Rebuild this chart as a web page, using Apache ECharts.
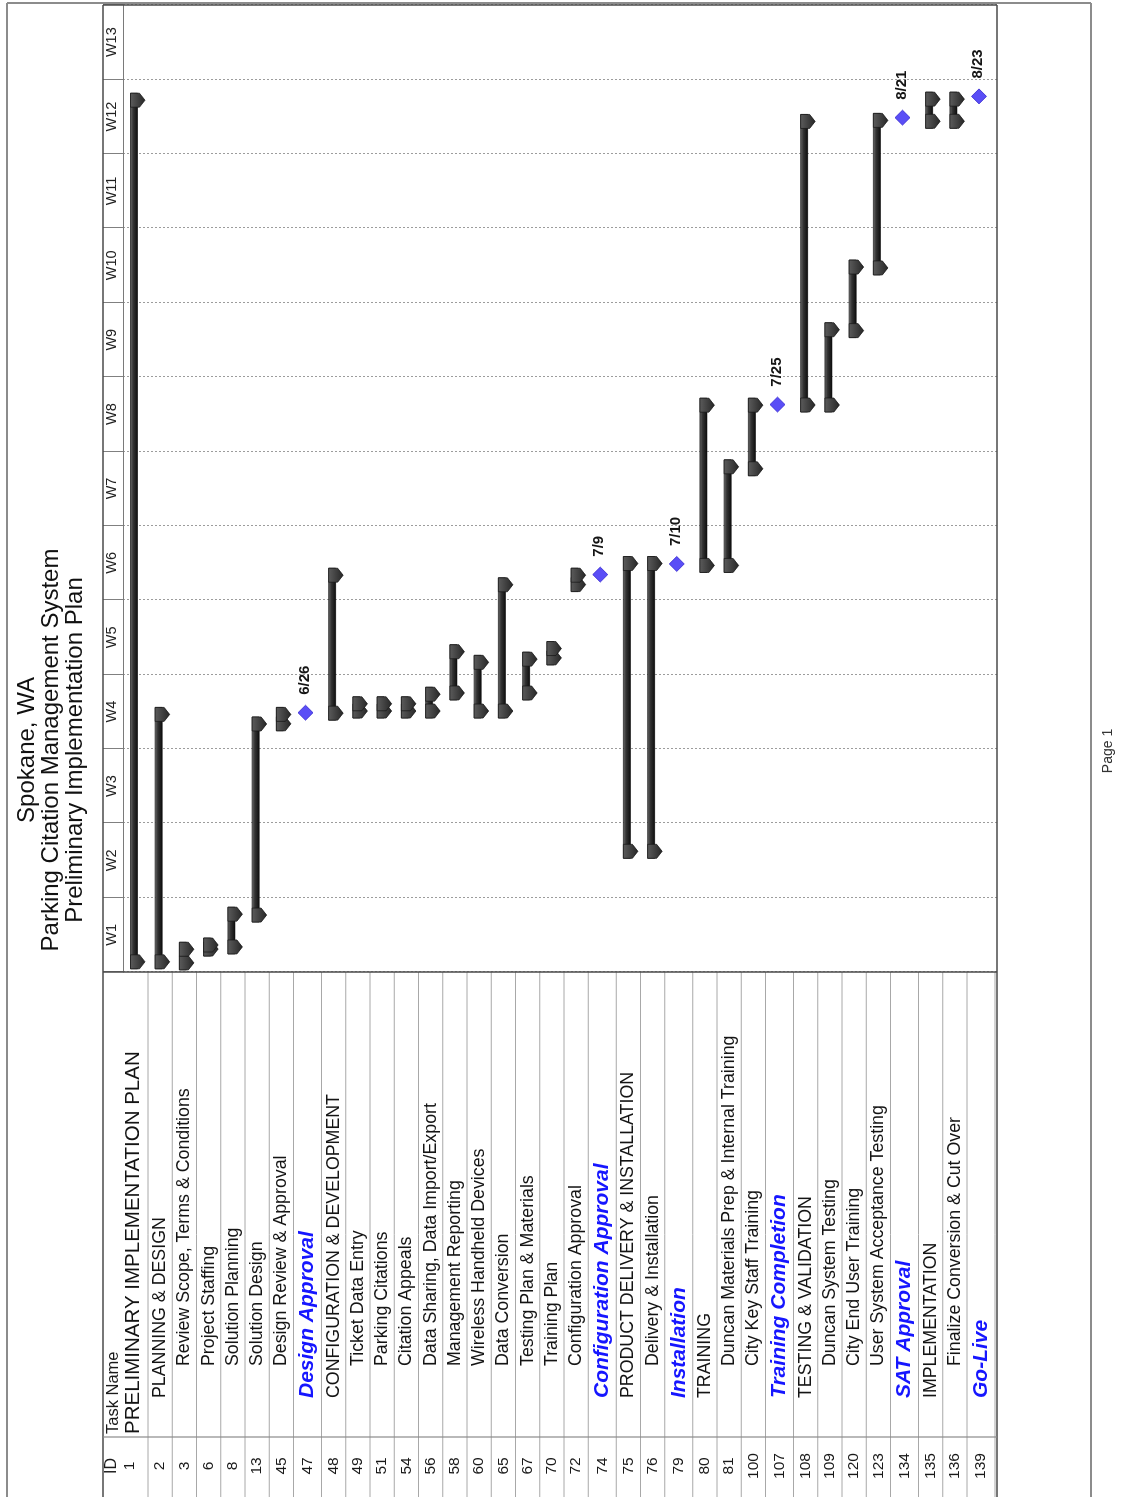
<!DOCTYPE html>
<html>
<head>
<meta charset="utf-8">
<title>Spokane, WA - Parking Citation Management System</title>
<script src="https://cdn.jsdelivr.net/npm/echarts/dist/echarts.min.js"></script>
<style>
  html, body { margin: 0; padding: 0; background: #fff; width: 1121px; height: 1497px; overflow: hidden; }
  /* landscape sheet, printed sideways on the portrait page */
  #sheet {
    position: absolute; left: 0; top: 0;
    width: 1497px; height: 1121px;
    transform-origin: 0 0;
    transform: translateY(1497px) rotate(-90deg);
    background: #fff;
  }
</style>
</head>
<body>
<div id="sheet"></div>
<script>
// ---- task table ----
const taskIds = [1, 2, 3, 6, 8, 13, 45, 47, 48, 49, 51, 54, 56, 58, 60, 65, 67, 70, 72, 74,
                 75, 76, 79, 80, 81, 100, 107, 108, 109, 120, 123, 134, 135, 136, 139];
const taskNames = [
  'PRELIMINARY IMPLEMENTATION PLAN', 'PLANNING & DESIGN', 'Review Scope, Terms & Conditions',
  'Project Staffing', 'Solution Planning', 'Solution Design', 'Design Review & Approval',
  'Design Approval', 'CONFIGURATION & DEVELOPMENT', 'Ticket Data Entry', 'Parking Citations',
  'Citation Appeals', 'Data Sharing, Data Import/Export', 'Management Reporting',
  'Wireless Handheld Devices', 'Data Conversion', 'Testing Plan & Materials', 'Training Plan',
  'Configuration Approval', 'Configuration Approval', 'PRODUCT DELIVERY & INSTALLATION',
  'Delivery & Installation', 'Installation', 'TRAINING', 'Duncan Materials Prep & Internal Training',
  'City Key Staff Training', 'Training Completion', 'TESTING & VALIDATION', 'Duncan System Testing',
  'City End User Training', 'User System Acceptance Testing', 'SAT Approval', 'IMPLEMENTATION',
  'Finalize Conversion & Cut Over', 'Go-Live'
];
const outlineLevels = [0, 1, 2, 2, 2, 2, 2, 1, 1, 2, 2, 2, 2, 2, 2, 2, 2, 2, 2, 1,
                       1, 2, 1, 1, 2, 2, 1, 1, 2, 2, 2, 1, 1, 2, 1];

// ---- timescale ----
const weekLabels = ['W1', 'W2', 'W3', 'W4', 'W5', 'W6', 'W7', 'W8', 'W9', 'W10', 'W11', 'W12', 'W13'];

// ---- summary bars (days counted from June 1) ----
const summaryIds    = [1, 2, 3, 6, 8, 13, 45, 48, 49, 51, 54, 56, 58, 60, 65, 67, 70, 72, 75, 76,
                       80, 81, 100, 108, 109, 120, 123, 135, 136];
const summaryStart  = [0.9, 0.9, 0.8, 2.1, 2.3, 5.3, 23.3, 24.3, 24.5, 24.5, 24.5, 24.5, 26.2, 24.5,
                       24.5, 26.2, 29.5, 36.4, 11.3, 11.3, 38.2, 38.2, 47.3, 53.3, 53.3, 60.3, 66.2,
                       80.0, 80.0];
const summaryFinish = [83.3, 25.5, 3.4, 3.8, 6.7, 24.6, 25.5, 38.6, 26.5, 26.5, 26.5, 27.4, 31.4, 30.4,
                       37.7, 30.7, 31.7, 38.6, 39.7, 39.7, 54.6, 48.8, 54.6, 81.3, 61.7, 67.6, 81.4,
                       83.4, 83.4];

// ---- milestones ----
const milestoneIds   = [47, 74, 79, 107, 134, 139];
const milestoneDates = ['6/26', '7/9', '7/10', '7/25', '8/21', '8/23'];

// ---- layout / style constants ----
const FONT = '"Liberation Sans", Arial, Helvetica, sans-serif';
const TIMELINE_START_DAY = 0.6;        // W1 begins this many days after June 1
const TIMELINE_DAYS = 91;              // 13 weeks
const ROW_H = 24.25, MILESTONE_ROW_H = 28, TOP_ROW_H = 25;
const TABLE_TOP = 123, TABLE_H = 874;
const NAME_INDENT = [0, 36, 68];

const rowHeights = taskIds.map((id, i) =>
  i === 0 ? TOP_ROW_H : (milestoneIds.includes(id) ? MILESTONE_ROW_H : ROW_H));
const rowTops = [];
rowHeights.reduce((acc, h, i) => { rowTops[i] = acc; return acc + h; }, 0);
const rowCenter = i => rowTops[i] + rowHeights[i] / 2;
const rowOf = id => taskIds.indexOf(id);

function dayOfDate(md) {
  const [m, d] = md.split('/').map(Number);
  return (Date.UTC(2009, m - 1, d) - Date.UTC(2009, 5, 1)) / 86400000;
}
const toAxis = day => day - TIMELINE_START_DAY;

const summaryData = summaryIds.map((id, i) =>
  [rowOf(id), toAxis(summaryStart[i]), toAxis(summaryFinish[i])]);
const milestoneData = milestoneIds.map((id, i) => ({
  name: milestoneDates[i],
  value: [toAxis(dayOfDate(milestoneDates[i])), rowCenter(rowOf(id))]
}));
const tableData = taskIds.map((id, i) => [i]);

// ---- renderers ----
function renderSummary(params, api) {
  const row = api.value(0);
  const c = api.coord([0, rowCenter(row)])[1];
  const x0 = api.coord([api.value(1), 0])[0];
  const x1 = api.coord([api.value(2), 0])[0];
  const capW = 14;
  const barFill = new echarts.graphic.LinearGradient(0, 0, 0, 1, [
    { offset: 0, color: '#6e6e6e' }, { offset: 0.4, color: '#333333' }, { offset: 1, color: '#0c0c0c' }
  ]);
  const capFill = new echarts.graphic.LinearGradient(0, 0, 0, 1, [
    { offset: 0, color: '#5c5c5c' }, { offset: 1, color: '#262626' }
  ]);
  const cap = x => ({
    type: 'polygon',
    shape: { points: [[x, c - 5], [x + capW, c - 5], [x + capW, c + 4], [x + capW / 2, c + 9.5], [x, c + 4]] },
    style: { fill: capFill, stroke: '#151515', lineWidth: 0.7 }
  });
  return {
    type: 'group',
    children: [
      { type: 'rect', shape: { x: x0, y: c - 5, width: Math.max(x1 - x0, 1), height: 7 },
        style: { fill: barFill, stroke: '#111', lineWidth: 0.7 } },
      cap(x0),
      cap(x1 - capW)
    ]
  };
}

function renderTableRow(params, api) {
  const i = api.value(0);
  const cs = params.coordSys;
  const top = api.coord([0, rowTops[i]])[1];
  const bottom = api.coord([0, rowTops[i] + rowHeights[i]])[1];
  const mid = (top + bottom) / 2;
  const isMilestone = milestoneIds.includes(taskIds[i]);
  let nameFont = '17.8px ' + FONT, nameColor = '#141414';
  let idY = mid, nameY = mid;
  if (i === 0) { nameFont = '20.5px ' + FONT; idY = mid - 6; nameY = mid - 2; }
  if (isMilestone) { nameFont = 'italic bold 21px ' + FONT; nameColor = '#1616ff'; }
  return {
    type: 'group',
    children: [
      { type: 'line', shape: { x1: cs.x, y1: bottom, x2: cs.x + cs.width, y2: bottom },
        style: { stroke: '#a8a8a8', lineWidth: 1 } },
      { type: 'text', x: cs.x + 31, y: idY,
        style: { text: String(taskIds[i]), font: '15.5px ' + FONT, fill: '#1a1a1a',
                 align: 'center', verticalAlign: 'middle' } },
      { type: 'text', x: cs.x + 63 + NAME_INDENT[outlineLevels[i]], y: nameY,
        style: { text: taskNames[i], font: nameFont, fill: nameColor,
                 align: 'left', verticalAlign: 'middle' } }
    ]
  };
}

// ---- chart ----
const chart = echarts.init(document.getElementById('sheet'), null, { renderer: 'canvas' });

const hLine = (x1, x2, y, color, w) => ({ type: 'line', shape: { x1, y1: y, x2, y2: y }, style: { stroke: color, lineWidth: w }, z: 10 });
const vLine = (x, y1, y2, color, w) => ({ type: 'line', shape: { x1: x, y1, x2: x, y2 }, style: { stroke: color, lineWidth: w }, z: 10 });

chart.setOption({
  animation: false,
  backgroundColor: '#ffffff',
  title: {
    text: 'Spokane, WA\nParking Citation Management System\nPreliminary Implementation Plan',
    left: 747, top: 15, textAlign: 'center', padding: 0,
    textStyle: { fontFamily: FONT, fontSize: 24, lineHeight: 24, fontWeight: 'normal', color: '#111' }
  },
  grid: [
    { id: 'gantt',  left: 525, top: TABLE_TOP, width: 967, height: TABLE_H },
    { id: 'header', left: 525, top: 103, width: 967, height: 20 },
    { id: 'table',  left: 0,   top: TABLE_TOP, width: 525, height: TABLE_H }
  ],
  xAxis: [
    { gridIndex: 0, type: 'value', min: 0, max: TIMELINE_DAYS, interval: 7,
      axisLine: { show: false }, axisTick: { show: false }, axisLabel: { show: false },
      splitLine: { show: true, lineStyle: { color: '#9c9c9c', type: [2, 2], width: 1 } } },
    { gridIndex: 1, type: 'category', data: weekLabels, position: 'bottom', boundaryGap: true,
      axisLine: { show: true, lineStyle: { color: '#7a7a7a', width: 1.2 } },
      axisTick: { show: false },
      axisLabel: { inside: true, margin: 4, fontFamily: FONT, fontSize: 14.5, color: '#222', interval: 0 },
      splitLine: { show: true, interval: 0, lineStyle: { color: '#808080', width: 1 } } },
    { gridIndex: 2, type: 'value', min: 0, max: 1, show: false }
  ],
  yAxis: [
    { gridIndex: 0, type: 'value', min: 0, max: TABLE_H, inverse: true, show: false },
    { gridIndex: 1, type: 'value', min: 0, max: 1, show: false },
    { gridIndex: 2, type: 'value', min: 0, max: TABLE_H, inverse: true, show: false }
  ],
  series: [
    { type: 'custom', name: 'Task table', xAxisIndex: 2, yAxisIndex: 2,
      renderItem: renderTableRow, data: tableData, silent: true },
    { type: 'custom', name: 'Summary', xAxisIndex: 0, yAxisIndex: 0,
      renderItem: renderSummary, data: summaryData, silent: true, z: 3 },
    { type: 'scatter', name: 'Milestones', xAxisIndex: 0, yAxisIndex: 0,
      symbol: 'diamond', symbolSize: [15, 15], symbolOffset: [0, -2], z: 4,
      itemStyle: { color: '#5a4ef6', borderColor: '#3426cf', borderWidth: 0.8, opacity: 1 },
      label: { show: true, position: 'right', distance: 10, formatter: '{b}', offset: [0, -1],
               fontFamily: FONT, fontSize: 15, fontWeight: 'bold', color: '#151515' },
      data: milestoneData }
  ],
  graphic: [
    // page border
    hLine(0, 1494, 7, '#8c8c8c', 2),
    hLine(0, 1494, 1091, '#8c8c8c', 2),
    vLine(1494, 7, 1091, '#8c8c8c', 2),
    // table / chart frame
    hLine(0, 1492, 103, '#4a4a4a', 1.5),
    hLine(0, 1492, 997, '#4a4a4a', 1.5),
    vLine(525, 103, 997, '#4a4a4a', 1.5),
    vLine(1492, 103, 997, '#4a4a4a', 1.5),
    vLine(60, 103, 997, '#8a8a8a', 1.2),
    // column headings
    { type: 'text', x: 31, y: 112, z: 10,
      style: { text: 'ID', font: '16px ' + FONT, fill: '#1a1a1a', align: 'center', verticalAlign: 'middle' } },
    { type: 'text', x: 63, y: 113, z: 10,
      style: { text: 'Task Name', font: '16.5px ' + FONT, fill: '#1a1a1a', align: 'left', verticalAlign: 'middle' } },
    // footer
    { type: 'text', x: 746, y: 1108, z: 10,
      style: { text: 'Page 1', font: '14px ' + FONT, fill: '#333', align: 'center', verticalAlign: 'middle' } }
  ]
});
</script>
</body>
</html>
